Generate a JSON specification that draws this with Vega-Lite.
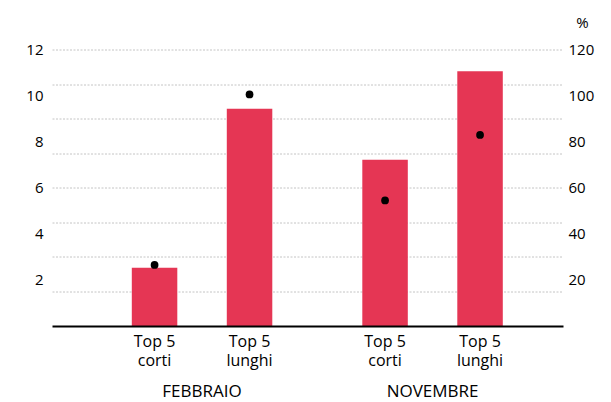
{
  "$schema": "https://vega.github.io/schema/vega-lite/v6.json",
  "autosize": {"type": "none"},
  "padding": {"left": 52, "top": 49.5, "right": 48, "bottom": 76},
  "width": 511,
  "height": 276.5,
  "background": "white",
  "config": {
    "font": "Open Sans",
    "view": {"stroke": null},
    "axis": {"labelFont": "Open Sans", "titleFont": "Open Sans", "labelColor": "#000", "titleColor": "#000"}
  },
  "data": {
    "values": [
      {"mese": "FEBBRAIO", "tipo": "Top 5\ncorti", "valore": 2.53, "pct": 26.5},
      {"mese": "FEBBRAIO", "tipo": "Top 5\nlunghi", "valore": 9.43, "pct": 100.5},
      {"mese": "NOVEMBRE", "tipo": "Top 5\ncorti", "valore": 7.21, "pct": 54.5},
      {"mese": "NOVEMBRE", "tipo": "Top 5\nlunghi", "valore": 11.06, "pct": 82.9}
    ]
  },
  "encoding": {
    "x": {
      "field": "mese", "type": "nominal",
      "scale": {"paddingInner": 0.3905, "paddingOuter": 0.3037, "align": 0.57, "round": false},
      "axis": {"title": null, "ticks": false, "tickSize": 0, "labelPadding": 57, "labelFontSize": 17, "labelAngle": 0,
               "domainColor": "#000", "domainWidth": 2.2, "zindex": 2}
    },
    "xOffset": {
      "field": "tipo", "type": "nominal",
      "scale": {"paddingInner": 0.521, "paddingOuter": 0, "round": false}
    }
  },
  "layer": [
    {
      "mark": {"type": "bar", "color": "#e53654"},
      "encoding": {
        "y": {
          "field": "valore", "type": "quantitative",
          "scale": {"domain": [0, 12], "nice": false, "zero": true},
          "axis": {
            "orient": "left", "title": null,
            "values": [1.5, 2, 3, 4, 4.5, 6, 7.5, 8, 9, 10, 10.5, 12],
            "labelExpr": "datum.value % 2 === 0 ? datum.label : ''",
            "grid": true,
            "gridOpacity": {"condition": {"test": "datum.value % 1.5 === 0", "value": 1}, "value": 0},
            "gridColor": "#b5b5b5", "gridDash": [2, 1.5], "gridWidth": 0.8,
            "ticks": false, "tickSize": 0, "domain": false,
            "labelPadding": 9, "labelFontSize": 15, "zindex": 0
          }
        }
      }
    },
    {
      "mark": {"type": "text", "baseline": "top", "dy": 7.5, "fontSize": 16, "lineHeight": 19.5, "lineBreak": "\n", "color": "#000", "font": "Open Sans"},
      "encoding": {
        "y": {"datum": 0, "type": "quantitative", "scale": {"domain": [0, 12], "nice": false}, "axis": null},
        "text": {"field": "tipo"}
      }
    },
    {
      "mark": {"type": "point", "filled": true, "color": "#000", "opacity": 1, "size": 60},
      "encoding": {
        "y": {
          "field": "pct", "type": "quantitative",
          "scale": {"domain": [0, 120], "nice": false},
          "axis": {
            "orient": "right", "title": "%", "titleAngle": 0, "titleX": 19, "titleY": -27.5,
            "titleAlign": "center", "titleBaseline": "middle", "titleFontWeight": "normal", "titleFontSize": 15,
            "values": [20, 40, 60, 80, 100, 120],
            "grid": false, "ticks": false, "tickSize": 0, "domain": false,
            "labelPadding": 5, "labelFontSize": 15
          }
        }
      }
    }
  ],
  "resolve": {"scale": {"y": "independent"}}
}
